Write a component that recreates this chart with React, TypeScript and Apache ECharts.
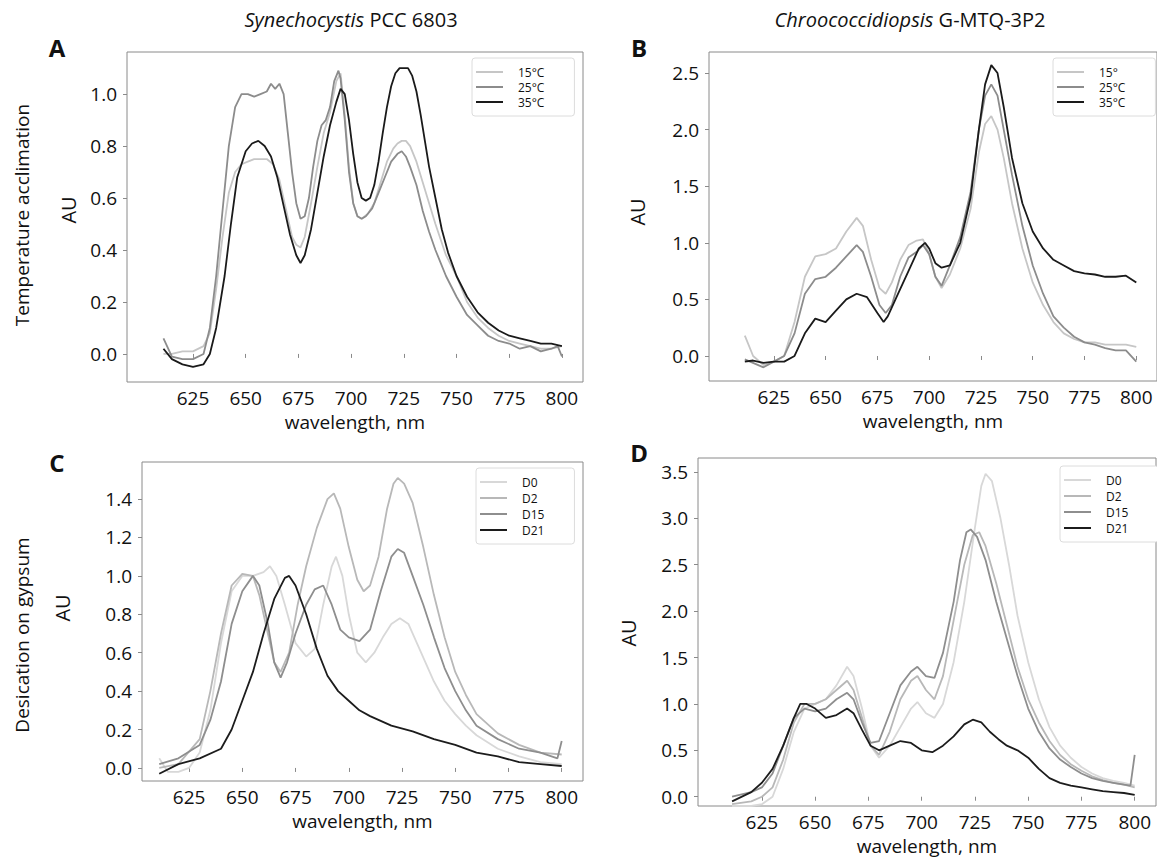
import React, { useEffect, useRef } from "react";
import * as echarts from "echarts";

// ---------- DATA ----------
const xTicks = [625, 650, 675, 700, 725, 750, 775, 800];
const yTicksA = [0, 0.2, 0.4, 0.6, 0.8, 1.0];
const yTicksB = [0, 0.5, 1.0, 1.5, 2.0, 2.5];
const yTicksC = [0, 0.2, 0.4, 0.6, 0.8, 1.0, 1.2, 1.4];
const yTicksD = [0, 0.5, 1.0, 1.5, 2.0, 2.5, 3.0, 3.5];

const namesA = ["15°C", "25°C", "35°C"];
const namesB = ["15°", "25°C", "35°C"];
const namesCD = ["D0", "D2", "D15", "D21"];

// Panel A: Synechocystis, temperature (wavelength nm, AU)
const A15 = [[611,0.00],[615,0.00],[620,0.01],[625,0.01],[630,0.03],[633,0.08],[636,0.25],[639,0.45],[642,0.62],[645,0.70],[648,0.73],[651,0.74],[654,0.75],[657,0.75],[660,0.75],[663,0.73],[666,0.67],[669,0.56],[672,0.45],[674,0.42],[676,0.41],[678,0.45],[681,0.58],[684,0.72],[687,0.85],[690,0.93],[693,1.05],[695,1.08],[697,0.92],[699,0.72],[701,0.58],[703,0.53],[705,0.52],[708,0.54],[711,0.58],[714,0.66],[717,0.74],[720,0.79],[722,0.81],[724,0.82],[726,0.82],[728,0.80],[731,0.74],[734,0.66],[737,0.58],[740,0.50],[745,0.38],[750,0.30],[755,0.20],[760,0.14],[765,0.10],[770,0.07],[775,0.05],[780,0.04],[785,0.03],[790,0.02],[795,0.02],[800,0.03]];
const A25 = [[611,0.06],[615,-0.01],[620,-0.02],[625,-0.02],[630,0.00],[633,0.10],[636,0.30],[639,0.55],[642,0.80],[645,0.95],[648,1.00],[651,1.00],[654,0.99],[657,1.00],[660,1.01],[662,1.04],[664,1.02],[666,1.04],[668,1.00],[670,0.85],[672,0.70],[674,0.58],[676,0.52],[678,0.53],[680,0.60],[682,0.72],[684,0.82],[686,0.88],[688,0.90],[690,0.95],[692,1.05],[694,1.09],[695,1.06],[697,0.90],[699,0.70],[701,0.58],[703,0.53],[705,0.52],[707,0.53],[710,0.56],[713,0.62],[716,0.68],[719,0.74],[722,0.77],[724,0.78],[726,0.76],[728,0.72],[731,0.65],[734,0.55],[737,0.47],[740,0.40],[745,0.30],[750,0.22],[755,0.15],[760,0.11],[765,0.07],[770,0.05],[775,0.04],[780,0.02],[785,0.03],[790,0.01],[795,0.02],[798,0.03],[800,-0.01]];
const A35 = [[611,0.02],[615,-0.02],[620,-0.04],[625,-0.05],[630,-0.04],[633,0.00],[636,0.10],[640,0.30],[643,0.50],[646,0.68],[650,0.78],[653,0.81],[656,0.82],[659,0.80],[662,0.76],[665,0.68],[668,0.57],[671,0.46],[674,0.38],[676,0.35],[678,0.38],[681,0.48],[684,0.62],[687,0.76],[690,0.88],[693,0.97],[695,1.02],[697,1.00],[699,0.90],[701,0.77],[703,0.66],[705,0.60],[707,0.59],[709,0.60],[711,0.65],[713,0.74],[715,0.85],[717,0.95],[719,1.03],[721,1.08],[723,1.10],[725,1.10],[727,1.10],[729,1.07],[731,1.01],[733,0.92],[735,0.82],[737,0.72],[740,0.60],[743,0.48],[746,0.39],[750,0.30],[755,0.22],[760,0.16],[765,0.12],[770,0.09],[775,0.07],[780,0.06],[785,0.05],[790,0.04],[795,0.04],[800,0.03]];

// Panel B: Chroococcidiopsis, temperature
const B15 = [[611,0.18],[615,0.00],[620,-0.08],[625,-0.05],[630,0.00],[635,0.30],[640,0.70],[645,0.88],[650,0.90],[655,0.95],[660,1.10],[665,1.22],[668,1.15],[672,0.85],[676,0.60],[679,0.55],[682,0.65],[686,0.85],[690,0.98],[694,1.02],[697,1.03],[700,0.90],[703,0.70],[706,0.60],[710,0.72],[715,0.95],[720,1.30],[724,1.80],[727,2.05],[730,2.12],[733,2.00],[736,1.75],[740,1.35],[745,0.95],[750,0.65],[755,0.45],[760,0.30],[765,0.20],[770,0.15],[775,0.12],[780,0.12],[785,0.10],[790,0.10],[795,0.10],[800,0.08]];
const B25 = [[611,-0.03],[620,-0.10],[625,-0.05],[630,0.00],[635,0.20],[640,0.55],[645,0.68],[650,0.70],[655,0.78],[660,0.88],[665,0.98],[668,0.92],[672,0.70],[676,0.45],[679,0.38],[682,0.45],[686,0.70],[690,0.87],[694,0.92],[697,0.98],[700,0.90],[703,0.70],[706,0.62],[710,0.80],[715,1.05],[720,1.45],[724,2.00],[727,2.30],[730,2.40],[733,2.30],[736,2.00],[740,1.60],[745,1.15],[750,0.80],[755,0.55],[760,0.35],[765,0.25],[770,0.17],[775,0.12],[780,0.10],[785,0.07],[790,0.05],[795,0.05],[800,-0.05]];
const B35 = [[611,-0.05],[615,-0.04],[620,-0.06],[625,-0.05],[630,-0.05],[635,0.00],[640,0.20],[645,0.33],[650,0.30],[655,0.40],[660,0.50],[665,0.55],[670,0.52],[675,0.38],[678,0.30],[680,0.35],[685,0.55],[690,0.75],[695,0.95],[698,1.00],[700,0.95],[703,0.82],[706,0.78],[710,0.80],[715,1.00],[720,1.40],[724,2.00],[727,2.40],[730,2.57],[733,2.50],[736,2.20],[740,1.75],[745,1.35],[750,1.10],[755,0.95],[760,0.85],[765,0.80],[770,0.75],[775,0.73],[780,0.72],[785,0.70],[790,0.70],[795,0.71],[800,0.65]];

// Panel C: Synechocystis, desiccation
const C0 = [[611,0.05],[615,-0.02],[620,-0.02],[625,0.00],[630,0.08],[635,0.30],[640,0.65],[645,0.92],[650,1.00],[655,1.00],[660,1.02],[663,1.05],[666,1.00],[670,0.85],[675,0.65],[680,0.58],[684,0.62],[688,0.85],[692,1.05],[694,1.10],[697,1.00],[700,0.80],[704,0.60],[708,0.55],[712,0.60],[716,0.68],[720,0.75],[724,0.78],[728,0.75],[732,0.65],[736,0.55],[740,0.45],[745,0.35],[750,0.28],[755,0.22],[760,0.17],[770,0.10],[780,0.06],[790,0.03],[800,0.02]];
const C2 = [[611,0.00],[620,0.02],[630,0.15],[635,0.40],[640,0.70],[645,0.95],[650,1.01],[655,1.00],[658,0.90],[662,0.70],[665,0.55],[668,0.50],[672,0.60],[676,0.85],[680,1.05],[685,1.25],[690,1.40],[693,1.43],[696,1.35],[700,1.15],[704,0.98],[707,0.92],[710,0.95],[714,1.10],[718,1.35],[721,1.48],[723,1.51],[726,1.48],[730,1.38],[735,1.15],[740,0.90],[745,0.68],[750,0.50],[755,0.38],[760,0.28],[770,0.18],[780,0.12],[790,0.08],[800,0.07]];
const C15 = [[611,0.02],[620,0.05],[630,0.12],[635,0.25],[640,0.45],[645,0.75],[650,0.92],[655,1.00],[658,0.95],[662,0.75],[665,0.55],[668,0.47],[671,0.55],[675,0.70],[680,0.85],[684,0.93],[688,0.95],[692,0.85],[696,0.72],[700,0.68],[705,0.66],[710,0.72],[715,0.92],[720,1.10],[723,1.14],[726,1.12],[730,1.00],[735,0.85],[740,0.68],[745,0.52],[750,0.40],[755,0.30],[760,0.22],[770,0.15],[780,0.10],[790,0.08],[798,0.05],[800,0.14]];
const C21 = [[611,-0.03],[620,0.02],[630,0.05],[640,0.10],[645,0.20],[650,0.35],[655,0.50],[660,0.70],[665,0.88],[670,0.99],[672,1.00],[675,0.95],[680,0.80],[685,0.62],[690,0.48],[695,0.40],[700,0.35],[705,0.30],[710,0.27],[720,0.22],[730,0.19],[740,0.15],[750,0.12],[760,0.08],[770,0.06],[780,0.03],[790,0.02],[800,0.01]];

// Panel D: Chroococcidiopsis, desiccation
const D0 = [[611,-0.10],[620,-0.10],[625,-0.08],[630,0.00],[635,0.30],[640,0.70],[645,0.95],[650,1.00],[655,1.05],[660,1.20],[665,1.40],[668,1.30],[672,0.95],[676,0.55],[680,0.42],[685,0.55],[690,0.75],[695,0.95],[698,1.02],[702,0.90],[706,0.85],[710,1.00],[715,1.45],[720,2.10],[725,2.90],[728,3.35],[730,3.48],[733,3.40],[737,3.00],[741,2.50],[745,1.95],[750,1.45],[755,1.05],[760,0.75],[765,0.55],[770,0.42],[775,0.32],[780,0.25],[785,0.20],[790,0.17],[795,0.15],[800,0.12]];
const D2 = [[611,-0.08],[620,-0.05],[625,0.00],[630,0.10],[635,0.40],[640,0.80],[645,1.00],[650,1.00],[655,1.05],[660,1.15],[665,1.25],[668,1.15],[672,0.85],[676,0.55],[680,0.45],[685,0.70],[690,1.05],[695,1.25],[698,1.30],[702,1.15],[706,1.05],[710,1.30],[715,1.90],[720,2.50],[724,2.82],[727,2.85],[730,2.70],[735,2.30],[740,1.85],[745,1.40],[750,1.05],[755,0.80],[760,0.60],[765,0.45],[770,0.35],[775,0.28],[780,0.22],[785,0.18],[790,0.15],[795,0.13],[800,0.10]];
const D15 = [[611,0.00],[620,0.05],[625,0.10],[630,0.25],[635,0.55],[640,0.85],[645,0.95],[650,0.92],[655,0.95],[660,1.05],[665,1.12],[668,1.05],[672,0.80],[676,0.58],[680,0.60],[685,0.90],[690,1.20],[695,1.35],[698,1.40],[702,1.30],[706,1.28],[710,1.55],[715,2.10],[718,2.55],[721,2.85],[723,2.88],[726,2.80],[730,2.55],[735,2.10],[740,1.70],[745,1.30],[750,0.95],[755,0.70],[760,0.52],[765,0.40],[770,0.32],[775,0.25],[780,0.20],[785,0.17],[790,0.15],[795,0.13],[798,0.12],[800,0.45]];
const D21 = [[611,-0.05],[620,0.05],[625,0.15],[630,0.30],[635,0.55],[640,0.85],[643,1.00],[646,1.00],[650,0.95],[655,0.85],[660,0.88],[665,0.95],[668,0.90],[672,0.72],[676,0.55],[680,0.50],[685,0.55],[690,0.60],[695,0.58],[700,0.50],[705,0.48],[710,0.55],[715,0.65],[720,0.78],[724,0.83],[728,0.80],[732,0.70],[736,0.62],[740,0.55],[745,0.50],[750,0.42],[755,0.30],[760,0.20],[765,0.15],[770,0.12],[775,0.10],[780,0.08],[785,0.06],[790,0.05],[795,0.04],[800,0.02]];

// ---------- STYLE ----------
const FONT = "'Open Sans', 'Liberation Sans', sans-serif";
const TEMP_COLORS = ["#c6c6c6", "#8c8c8c", "#1a1a1a"];
const DES_COLORS = ["#d8d8d8", "#b8b8b8", "#8e8e8e", "#1c1c1c"];

export default function App() {
  const ref = useRef<HTMLDivElement>(null);
  useEffect(() => {
    if (!ref.current) return;
    const chart = echarts.init(ref.current, null, { renderer: "svg" });

    const panels = [
      { grid: { left: 127, top: 52, width: 456, height: 330 }, xr: [593.7, 810], yr: [-0.108, 1.162], yt: yTicksA, names: namesA, data: [A15, A25, A35], colors: TEMP_COLORS, legend: { left: 472, top: 58 }, gap: 3 },
      { grid: { left: 709, top: 52, width: 456, height: 329 }, xr: [593.7, 810], yr: [-0.221, 2.686], yt: yTicksB, names: namesB, data: [B15, B25, B35], colors: TEMP_COLORS, legend: { left: 1053, top: 58 }, gap: 3 },
      { grid: { left: 142, top: 462, width: 441, height: 319 }, xr: [602.9, 810], yr: [-0.068, 1.593], yt: yTicksC, names: namesCD, data: [C0, C2, C15, C21], colors: DES_COLORS, legend: { left: 476, top: 468 }, gap: 4 },
      { grid: { left: 698, top: 458, width: 458, height: 348 }, xr: [595, 810], yr: [-0.1, 3.65], yt: yTicksD, names: namesCD, data: [D0, D2, D15, D21], colors: DES_COLORS, legend: { left: 1060, top: 466 }, gap: 4 },
    ];

    const grids: any[] = [];
    const xAxes: any[] = [];
    const yAxes: any[] = [];
    const series: any[] = [];
    const legends: any[] = [];

    panels.forEach((p, i) => {
      grids.push({ ...p.grid, show: true, borderColor: "#8a8a8a", borderWidth: 1, backgroundColor: "transparent" });
      xAxes.push({
        type: "value", gridIndex: i, min: p.xr[0], max: p.xr[1],
        axisLine: { show: false }, splitLine: { show: false },
        axisTick: { show: true, customValues: xTicks, length: 4, lineStyle: { color: "#8a8a8a" } },
        axisLabel: { customValues: xTicks, fontSize: 19, lineHeight: 20, color: "#111", fontFamily: FONT, margin: 6 },
        name: "wavelength, nm", nameLocation: "middle", nameGap: 30,
        nameTextStyle: { fontSize: 19, lineHeight: 20, color: "#111", fontFamily: FONT },
      });
      yAxes.push({
        type: "value", gridIndex: i, min: p.yr[0], max: p.yr[1],
        axisLine: { show: false }, splitLine: { show: false },
        axisTick: { show: true, customValues: p.yt, length: 4, lineStyle: { color: "#8a8a8a" } },
        axisLabel: { customValues: p.yt, fontSize: 19, color: "#111", fontFamily: FONT, margin: 10, formatter: (v: number) => v.toFixed(1) },
      });
      p.data.forEach((d, k) => {
        series.push({
          type: "line", name: p.names[k], xAxisIndex: i, yAxisIndex: i, data: d,
          showSymbol: false, symbol: "none", clip: true,
          lineStyle: { color: p.colors[k], width: 1.8 }, itemStyle: { color: p.colors[k] },
        });
      });
      legends.push({
        ...p.legend, orient: "vertical", data: p.names, icon: "rect", itemWidth: 27, itemHeight: 2,
        itemGap: p.gap, padding: [8, 30, 8, 4], backgroundColor: "#fff", borderColor: "#dcdcdc", borderWidth: 1, borderRadius: 3,
        textStyle: { fontSize: 12, lineHeight: 12, color: "#111", fontFamily: FONT, padding: [0, 0, 0, 10] },
        selectedMode: false,
      });
    });

    const txt = (x: number, y: number, text: string, size: number, opts: any = {}) => ({
      type: "text", x, y, rotation: opts.rot || 0,
      style: { text, fontSize: size, fontFamily: FONT, fill: "#111", fontWeight: opts.bold ? "bold" : "normal", textAlign: "center", textVerticalAlign: "middle" },
    });

    const titleStyle = { fontSize: 20, fontWeight: "normal", color: "#111", fontFamily: FONT, rich: { i: { fontStyle: "italic", fontSize: 20, color: "#111", fontFamily: FONT } } };

    chart.setOption({
      animation: false,
      backgroundColor: "#fff",
      title: [
        { text: "{i|Synechocystis} PCC 6803", left: 346, top: 4, textAlign: "center", textStyle: titleStyle },
        { text: "{i|Chroococcidiopsis} G-MTQ-3P2", left: 905, top: 4, textAlign: "center", textStyle: titleStyle },
      ],
      grid: grids, xAxis: xAxes, yAxis: yAxes, series, legend: legends,
      graphic: [
        txt(57, 47, "A", 24, { bold: true }),
        txt(639, 47, "B", 24, { bold: true }),
        txt(57, 462, "C", 24, { bold: true }),
        txt(639, 452, "D", 24, { bold: true }),
        txt(22, 215, "Temperature acclimation", 19, { rot: Math.PI / 2 }),
        txt(22, 635, "Desication on gypsum", 19, { rot: Math.PI / 2 }),
        txt(68, 210, "AU", 20, { rot: Math.PI / 2 }),
        txt(637, 212, "AU", 20, { rot: Math.PI / 2 }),
        txt(62, 608, "AU", 20, { rot: Math.PI / 2 }),
        txt(628, 633, "AU", 20, { rot: Math.PI / 2 }),
      ],
    });
    return () => chart.dispose();
  }, []);
  return <div ref={ref} style={{ position: "absolute", left: 0, top: 0, width: 1157, height: 861 }} />;
}
